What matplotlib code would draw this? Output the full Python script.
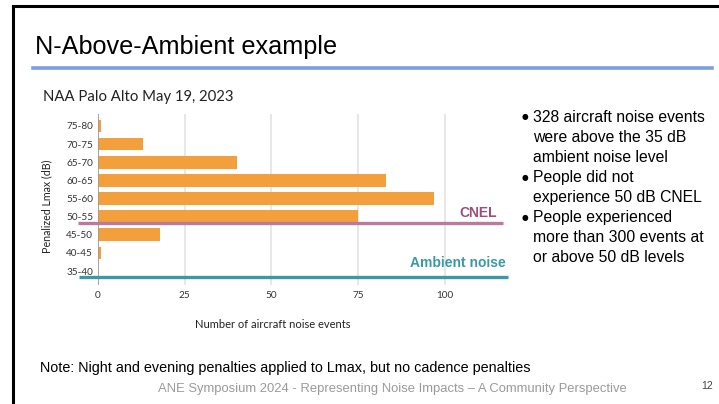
import numpy as np
import matplotlib
matplotlib.use('Agg')
from matplotlib import pyplot as plt
from matplotlib.lines import Line2D

# Number of aircraft noise events per penalized Lmax band
bands = ['35-40', '40-45', '45-50', '50-55', '55-60', '60-65', '65-70', '70-75', '75-80']
events = [0, 1, 18, 75, 97, 83, 40, 13, 1]
x_ticks = [0, 25, 50, 75, 100]

bullets = [
    ['328 aircraft noise events', 'were above the 35 dB', 'ambient noise level'],
    ['People did not', 'experience 50 dB CNEL'],
    ['People experienced', 'more than 300 events at', 'or above 50 dB levels'],
]

W, H = 719, 404
ORANGE = '#f3a03c'
CNEL_COLOR = '#b97a9e'
CNEL_TEXT = '#9c4f7a'
AMBIENT_COLOR = '#3c98a6'
SLIDE_FONT = 'Liberation Sans'
CHART_FONT = 'Lato'


def fx(px):
    return px / W


def fy(py):
    return 1 - py / H


fig = plt.figure(figsize=(W / 100, H / 100), dpi=100)
fig.patch.set_facecolor('white')

# slide frame: heavy black edge on top and left
fig.add_artist(Line2D([fx(13), 1], [fy(6), fy(6)], color='black', lw=2.2))
fig.add_artist(Line2D([fx(13), fx(13)], [fy(6), 0], color='black', lw=2.2))

# slide title and underline
fig.text(fx(35), fy(47), 'N-Above-Ambient example', family=SLIDE_FONT,
         fontsize=18.2, va='center', ha='left')
fig.add_artist(Line2D([fx(33), fx(712)], [fy(68), fy(68)], color='#7d9ee0', lw=2.6))

# chart title
fig.text(fx(43), fy(97), 'NAA Palo Alto May 19, 2023', family=CHART_FONT,
         fontsize=10.7, va='center', ha='left', color='#222222')

# chart axes: left edge sits on x = 0
ax_l, ax_r, ax_t, ax_b = 98, 508, 114, 285
ax = fig.add_axes([fx(ax_l), fy(ax_b), fx(ax_r - ax_l), (ax_b - ax_t) / H])
ax.set_xlim(0, 118.2)
ax.set_ylim(-0.77, 8.66)

y = np.arange(len(bands))
ax.barh(y, events, height=0.7, color=ORANGE, zorder=2)

ax.set_xticks(x_ticks)
ax.set_yticks(y)
ax.set_yticklabels(bands)
ax.grid(axis='x', color='#e3e3e3', lw=1.2, zorder=0)
ax.grid(axis='y', visible=False)
for s in ax.spines.values():
    s.set_visible(False)
ax.axvline(0, color='#9a9a9a', lw=1.2, zorder=3)
ax.tick_params(length=0, labelsize=7.2, colors='#333333')
ax.tick_params(axis='y', pad=3.5)
ax.tick_params(axis='x', pad=4.5)
for lab in ax.get_xticklabels() + ax.get_yticklabels():
    lab.set_family(CHART_FONT)

# reference levels
ax.plot([-5.8, 116.7], [2.63, 2.63], color=CNEL_COLOR, lw=2.4, clip_on=False,
        solid_capstyle='butt', zorder=4)
ax.plot([-5.5, 118.2], [-0.33, -0.33], color=AMBIENT_COLOR, lw=2.4, clip_on=False,
        solid_capstyle='butt', zorder=4)
fig.text(fx(497), fy(213), 'CNEL', family=SLIDE_FONT, fontweight='bold',
         fontsize=10, color=CNEL_TEXT, ha='right', va='center')
fig.text(fx(506), fy(263), 'Ambient noise', family=SLIDE_FONT, fontweight='bold',
         fontsize=10, color=AMBIENT_COLOR, ha='right', va='center')

fig.text(fx(47), fy(206), 'Penalized Lmax (dB)', family=CHART_FONT, fontsize=7.7,
         rotation=90, ha='center', va='center', color='#222222')
fig.text(fx(273), fy(324), 'Number of aircraft noise events', family=CHART_FONT,
         fontsize=8, ha='center', va='center', color='#222222')

# bullet list on the right
line_y = 117
for item in bullets:
    fig.text(fx(525), fy(line_y), '\u25cf', family='DejaVu Sans', fontsize=5.5,
             ha='center', va='center')
    for line in item:
        fig.text(fx(533), fy(line_y), line, family=SLIDE_FONT, fontsize=11.3,
                 ha='left', va='center')
        line_y += 20.1

fig.text(fx(40), fy(368), 'Note: Night and evening penalties applied to Lmax, but no cadence penalties',
         family=SLIDE_FONT, fontsize=10.35, ha='left', va='center')
fig.text(fx(392), fy(389), 'ANE Symposium 2024 - Representing Noise Impacts \u2013 A Community Perspective',
         family=SLIDE_FONT, fontsize=9.35, color='#9a9a9a', ha='center', va='center')
fig.text(fx(707), fy(386), '12', family=SLIDE_FONT, fontsize=7.5, color='#444444',
         ha='center', va='center')

fig.savefig('out.png', dpi=100)
